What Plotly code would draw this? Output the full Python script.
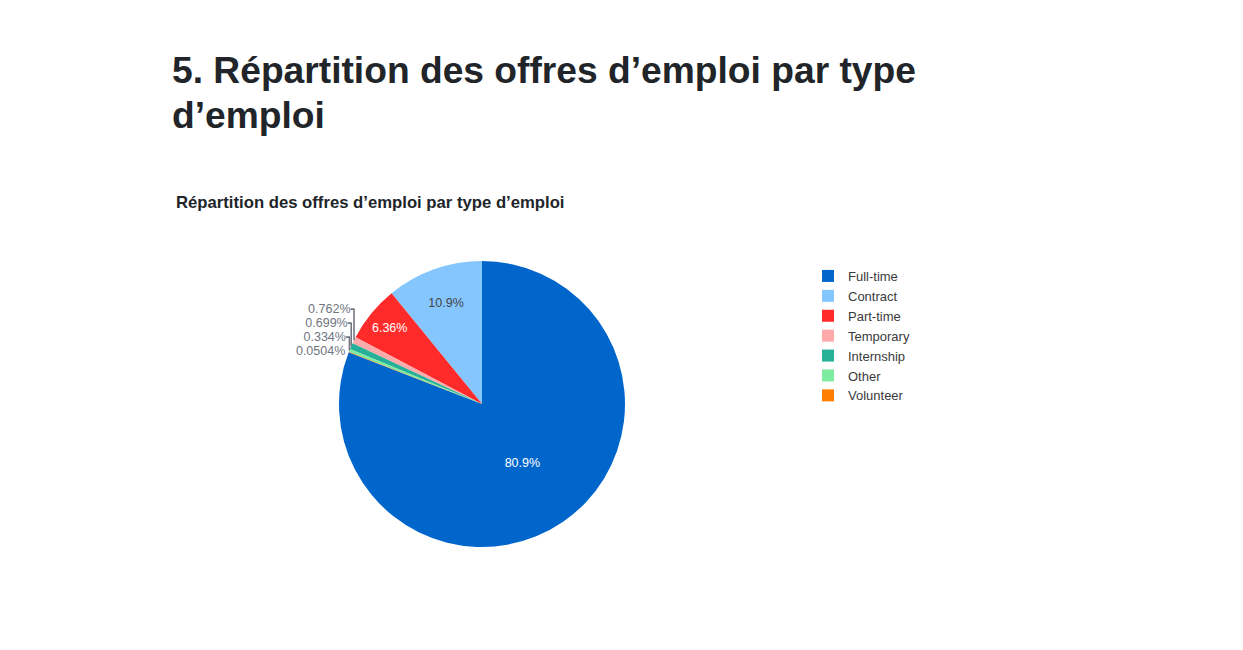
import plotly.graph_objects as go

labels = ["Full-time", "Contract", "Part-time", "Temporary", "Internship", "Other", "Volunteer"]
values = [80.9, 10.9, 6.36, 0.762, 0.699, 0.334, 0.0504]
colors = ["#0066CC", "#85C6FF", "#FF2A2A", "#FFAAAA", "#26B09A", "#7DEBA0", "#FF8000"]

page_title_1 = "5. Répartition des offres d’emploi par type"
page_title_2 = "d’emploi"
chart_title = "Répartition des offres d’emploi par type d’emploi"

W, H = 1243, 650
OFF = 8  # page body margin offset
FONT = "Liberation Sans, Arial, Helvetica, sans-serif"

def px(x):
    return (x - OFF) / W

def py(y):
    return 1 - (y - OFF) / H

cx, cy, r = 482, 404, 143

fig = go.Figure(go.Pie(
    labels=labels,
    values=values,
    marker=dict(colors=colors),
    textinfo="percent",
    textfont=dict(size=12.5, family=FONT),
    outsidetextfont=dict(color="#70757f"),
    domain=dict(x=[px(cx - r), px(cx + r)], y=[py(cy + r), py(cy - r)]),
))

fig.update_layout(
    width=W, height=H,
    margin=dict(l=0, r=0, t=0, b=0),
    paper_bgcolor="white",
    plot_bgcolor="white",
    font=dict(family=FONT, size=12, color="#444444"),
    showlegend=True,
    legend=dict(x=px(808), y=py(261), xanchor="left", yanchor="top",
                font=dict(size=13, color="#3a3a3a"), bgcolor="rgba(0,0,0,0)"),
    annotations=[
        dict(text="<b>" + page_title_1 + "</b>", x=px(170), y=py(70), xref="paper", yref="paper",
             xanchor="left", yanchor="middle", align="left", showarrow=False,
             font=dict(family=FONT, size=37.2, color="#212529")),
        dict(text="<b>" + page_title_2 + "</b>", x=px(170), y=py(115), xref="paper", yref="paper",
             xanchor="left", yanchor="middle", align="left", showarrow=False,
             font=dict(family=FONT, size=37.2, color="#212529")),
        dict(text="<b>" + chart_title + "</b>", x=px(174), y=py(202), xref="paper", yref="paper",
             xanchor="left", yanchor="middle", align="left", showarrow=False,
             font=dict(family=FONT, size=16.7, color="#212529")),
    ],
)

fig.write_html("out.html")
